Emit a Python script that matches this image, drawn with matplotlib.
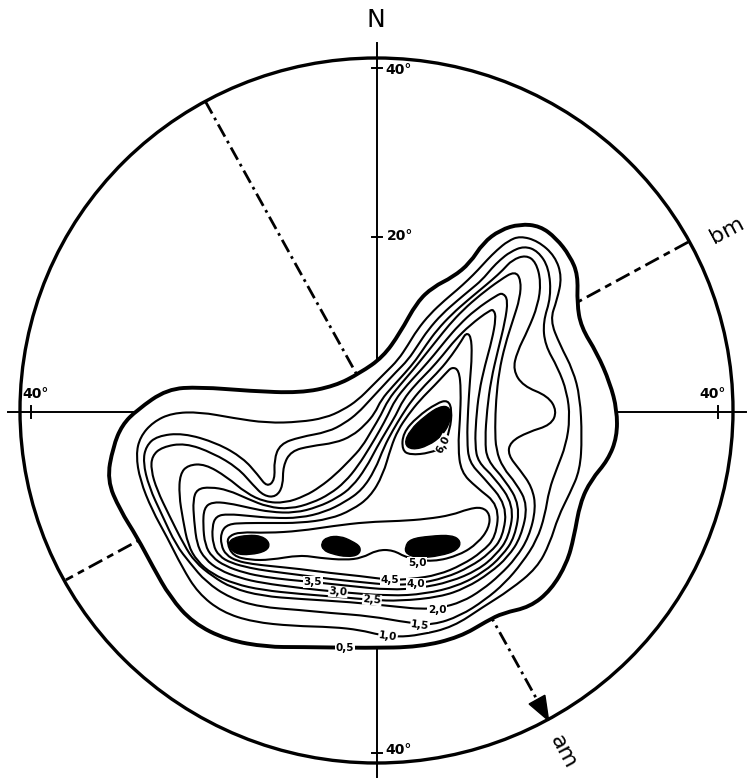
import numpy as np
import matplotlib
matplotlib.use("Agg")
import matplotlib.pyplot as plt
from matplotlib.path import Path
from matplotlib.patches import PathPatch, Ellipse, Polygon

plt.rcParams['lines.scale_dashes'] = False

# digitised isolines (image pixel units, y downwards)
level_05 = [(107,480),(113,447),(122,425),(137,410),(167,389),(200,387),(250,391),(300,393),(335,386),(360,373),(383,357),(400,333),(417,302),(433,287),(453,277),(470,263),(483,243),(500,230),(520,224),(540,226),(556,238),(570,256),(578,275),(577,303),(581,327),(597,353),(610,383),(617,410),(617,437),(608,460),(591,480),(580,503),(574,537),(567,563),(551,590),(530,607),(503,613),(487,621),(460,637),(420,647),(367,648),(300,647),(267,647),(227,640),(193,623),(170,597),(153,567),(137,537),(120,510)]
level_10 = [(140,480),(136,455),(140,437),(153,422),(172,413),(200,412),(233,418),(267,423),(300,422),(325,418),(343,410),(358,400),(372,386),(386,372),(398,360),(408,345),(417,330),(430,314),(445,300),(457,290),(468,280),(478,270),(487,260),(497,250),(508,241),(520,236),(538,241),(555,256),(562,277),(557,300),(550,320),(560,345),(573,370),(580,397),(582,437),(580,470),(570,493),(558,517),(550,543),(537,568),(510,590),(483,607),(453,627),(420,635),(397,637),(380,635),(360,630),(333,627),(293,626),(253,622),(222,612),(198,593),(182,567),(167,537),(152,510)]
level_15 = [(176,545),(162,515),(149,487),(143,462),(146,446),(157,436),(183,433),(217,443),(243,458),(258,475),(267,487),(275,480),(274,460),(280,444),(300,437),(328,432),(345,423),(358,413),(370,400),(383,386),(396,372),(408,360),(418,345),(428,330),(442,314),(458,300),(470,290),(482,280),(492,268),(500,260),(510,252),(524,246),(538,251),(549,268),(551,297),(543,322),(545,345),(558,368),(567,392),(570,418),(566,445),(557,468),(549,490),(545,515),(537,540),(522,563),(505,583),(485,600),(460,616),(433,625),(410,623),(370,616),(330,613),(300,610),(260,607),(230,598),(206,582),(190,563)]
level_20 = [(184,545),(169,515),(157,490),(151,470),(152,456),(162,447),(185,443),(213,453),(238,468),(253,485),(264,496),(276,497),(283,486),(283,466),(291,451),(311,446),(335,443),(352,436),(365,425),(375,413),(381,400),(393,386),(405,373),(416,360),(426,345),(437,330),(452,314),(468,300),(480,290),(492,280),(503,270),(512,260),(526,255),(536,262),(541,282),(538,305),(528,330),(517,352),(513,370),(523,386),(548,396),(557,411),(551,425),(528,432),(510,442),(508,455),(520,470),(532,487),(536,508),(529,537),(516,558),(500,575),(482,590),(462,602),(440,608),(420,609),(400,607),(350,602),(300,599),(262,596),(232,588),(212,576),(195,562)]
level_25 = [(188,545),(183,520),(179,495),(180,474),(188,465),(205,464),(227,477),(246,493),(265,502),(285,503),(305,496),(320,487),(335,475),(350,460),(362,447),(372,430),(381,415),(388,400),(400,385),(413,370),(425,355),(437,340),(449,325),(463,310),(480,295),(500,280),(515,271),(521,280),(520,298),(513,320),(505,345),(499,372),(496,400),(495,428),(496,450),(503,468),(516,483),(528,505),(521,537),(508,557),(490,573),(466,588),(440,597),(400,601),(372,600),(340,597),(300,594),(262,590),(235,584),(212,574),(197,561)]
level_30 = [(197,545),(194,520),(193,500),(197,489),(210,487),(228,490),(248,499),(268,507),(290,509),(312,503),(330,494),(345,482),(358,466),(370,447),(380,430),(388,415),(395,400),(407,385),(421,370),(434,355),(446,340),(459,325),(475,310),(497,295),(503,293),(508,300),(505,322),(498,350),(491,380),(487,410),(485,440),(487,460),(505,480),(520,505),(515,537),(502,556),(484,572),(458,586),(425,594),(390,596),(338,592),(300,588),(262,583),(240,578),(219,570),(205,559)]
level_35 = [(205,545),(203,525),(204,508),(212,502),(228,503),(250,508),(270,512),(295,513),(318,507),(337,498),(352,487),(366,468),(377,447),(387,430),(396,415),(403,400),(415,385),(430,370),(443,355),(455,340),(470,325),(490,310),(494,310),(496,318),(492,340),(485,365),(479,392),(476,420),(475,445),(478,462),(494,477),(514,505),(509,537),(496,555),(478,570),(450,582),(420,588),(390,590),(350,586),(313,582),(290,580),(265,577),(245,573),(225,566),(212,557)]
level_40 = [(213,545),(212,527),(216,516),(228,514),(250,516),(272,518),(300,518),(325,512),(345,502),(362,490),(375,470),(384,447),(393,430),(402,415),(412,400),(425,385),(440,370),(452,355),(462,340),(466,333),(471,336),(472,355),(470,380),(468,410),(467,440),(469,462),(483,477),(507,505),(503,537),(490,553),(470,567),(445,578),(416,584),(390,585),(360,582),(330,579),(300,575),(268,571),(250,568),(231,563),(219,556)]
level_45 = [(221,545),(221,532),(228,524),(245,523),(270,523),(300,523),(330,519),(352,510),(370,497),(383,475),(391,447),(398,430),(408,415),(420,400),(435,385),(446,373),(452,367),(459,370),(461,390),(460,420),(458,447),(461,472),(476,487),(499,505),(496,537),(482,552),(462,565),(438,575),(412,579),(390,580),(360,576),(330,573),(300,569),(270,566),(252,564),(237,561),(226,555)]
level_50 = [(227,543),(233,556),(250,560),(270,560),(300,555),(320,558),(345,560),(362,558),(377,550),(393,550),(407,558),(433,562),(460,555),(478,543),(489,528),(490,514),(482,507),(468,509),(452,515),(427,519),(400,521),(367,522),(333,526),(300,531),(267,533),(240,532),(229,536)]
level_60 = [(402,450),(403,433),(417,417),(437,403),(448,400),(452,410),(450,430),(443,447),(430,453),(410,455)]

# maxima (filled)
peak_1 = [(228,545),(232,538),(248,535),(262,536),(270,543),(267,551),(250,555),(235,554)]
peak_2 = [(321,543),(327,537),(340,536),(352,541),(361,547),(359,555),(347,557),(332,554),(323,550)]
peak_3 = [(405,547),(410,539),(430,536),(452,535),(461,541),(458,550),(440,556),(418,558),(406,554)]
peak_4 = [(404,444),(410,430),(425,416),(440,406),(450,407),(451,420),(443,435),(428,446),(412,450)]

level_names = ['0,5', '1,0', '1,5', '2,0', '2,5', '3,0', '3,5', '4,0', '4,5', '5,0', '6,0']
am_bearing = 151.0   # degrees from N
bm_bearing = 61.5

cx, cy, R = 377.0, 411.0, 354.0


def smooth_path(pts):
    p = np.asarray(pts, float)
    mid = (p + np.roll(p, -1, axis=0)) / 2
    verts = [mid[-1]]
    codes = [Path.MOVETO]
    for i in range(len(p)):
        verts += [p[i], mid[i]]
        codes += [Path.CURVE3, Path.CURVE3]
    verts.append(mid[-1])
    codes.append(Path.CLOSEPOLY)
    return Path(verts, codes)


def on_circle(bearing):
    b = np.radians(bearing)
    return cx + R * np.sin(b), cy - R * np.cos(b)


fig = plt.figure(figsize=(7.56, 7.80), dpi=100)
ax = fig.add_axes([0, 0, 1, 1])
ax.set_xlim(0, 756)
ax.set_ylim(780, 0)
ax.axis('off')

# net
ax.add_patch(Ellipse((376.5, 410.5), 713, 705, fill=False, lw=2.4, color='k', zorder=1))
ax.plot([377, 377], [43, 777], color='k', lw=1.4, zorder=1)
ax.plot([8, 746], [412, 412], color='k', lw=1.4, zorder=1)
for y in [68, 237, 753]:
    ax.plot([372, 382], [y, y], color='k', lw=1.4, zorder=1)
for x in [31, 718]:
    ax.plot([x, x], [406, 418], color='k', lw=1.4, zorder=1)

# am / bm
a1 = on_circle(am_bearing - 180)
a2 = on_circle(am_bearing)
ax.plot([a1[0], a2[0]], [a1[1], a2[1]], color='k', lw=2.0,
        linestyle=(0, (10, 3.5, 2, 3.5)), zorder=1)
b1 = on_circle(bm_bearing)
b2 = on_circle(bm_bearing + 180)
ax.plot([b1[0], b2[0]], [b1[1], b2[1]], color='k', lw=2.0,
        linestyle=(0, (11, 4, 5, 4)), zorder=1)
d = np.array(a2) - np.array([cx, cy])
d /= np.linalg.norm(d)
n = np.array([-d[1], d[0]])
tip = np.array(a2)
base = tip - 24 * d
ax.add_patch(Polygon([tip, base + 9 * n, base - 9 * n], closed=True, color='k', zorder=3))

# isolines
ax.add_patch(PathPatch(smooth_path(level_05), facecolor='white', edgecolor='k', lw=2.8, zorder=2))
for lv in [level_10, level_15, level_20, level_25, level_30, level_35,
           level_40, level_45, level_50, level_60]:
    ax.add_patch(PathPatch(smooth_path(lv), facecolor='none', edgecolor='k', lw=1.5, zorder=3))
for pk in [peak_1, peak_2, peak_3, peak_4]:
    ax.add_patch(PathPatch(smooth_path(pk), facecolor='k', edgecolor='k', lw=1.0, zorder=4))

label_pos = [(345, 648), (388, 636), (420, 625), (437, 610), (372, 600), (338, 592),
             (313, 582), (416, 584), (390, 580), (417, 563), (443, 444)]
label_rot = [0, -8, -8, 0, -5, -5, 0, 0, 0, 0, 62]
for name, (x, y), r in zip(level_names, label_pos, label_rot):
    ax.text(x, y, name, fontsize=7.5, fontweight='bold', ha='center', va='center',
            rotation=r, zorder=5,
            bbox=dict(facecolor='white', edgecolor='none', pad=0.4))

# text
ax.text(376, 20, 'N', fontsize=18, ha='center', va='center')
deg = dict(fontsize=10, fontweight='bold', ha='left', va='center')
ax.text(385, 70, '40°', **deg)
ax.text(387, 236, '20°', **deg)
ax.text(385, 750, '40°', **deg)
ax.text(22, 394, '40°', **deg)
ax.text(699, 394, '40°', **deg)
ax.text(727, 230, 'bm', fontsize=16, ha='center', va='center', rotation=28)
ax.text(563, 752, 'am', fontsize=16, ha='center', va='center', rotation=-62)

fig.savefig('out.png', dpi=100, facecolor='white')
